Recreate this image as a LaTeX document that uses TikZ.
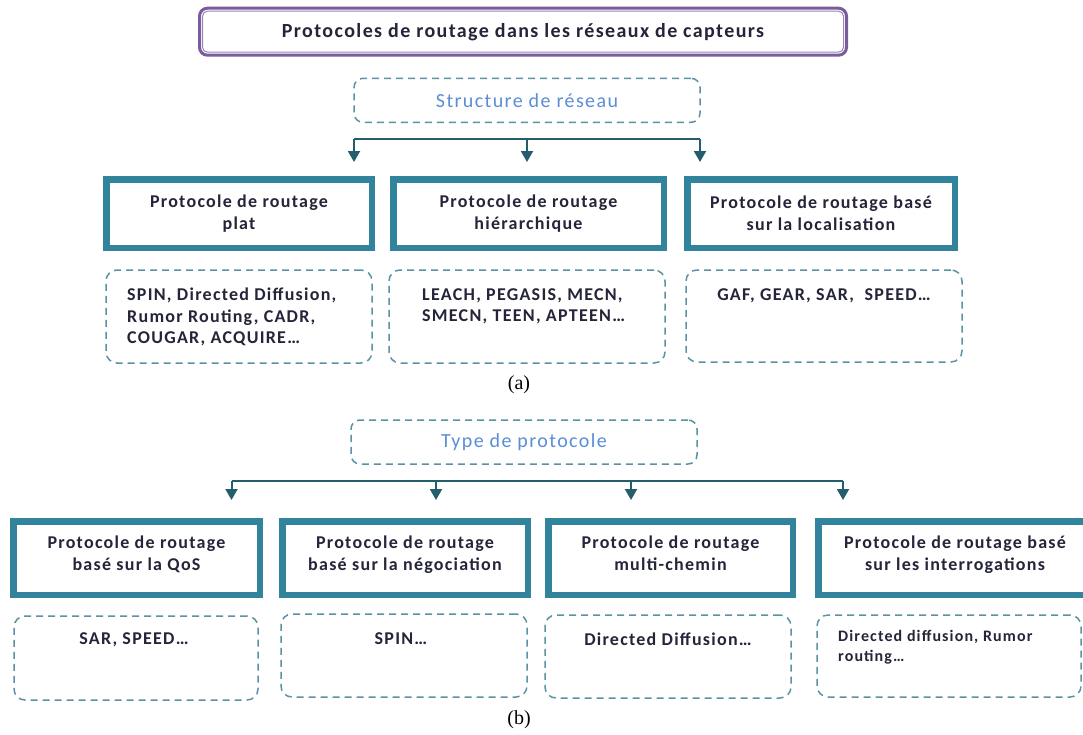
\documentclass[tikz,border=0pt]{standalone}
\usepackage{fontspec}
\setmainfont{Carlito}
\newfontfamily\widefont[LetterSpace=7]{Carlito}
\newfontfamily\capfont{Liberation Serif}
\usetikzlibrary{arrows.meta}

\definecolor{boxteal}{HTML}{31849B}
\definecolor{dashteal}{HTML}{5A93A5}
\definecolor{arrowteal}{HTML}{245E6C}
\definecolor{labelblue}{HTML}{5B8ED6}
\definecolor{titlepurple}{HTML}{7A5C9A}
\definecolor{titleinner}{HTML}{9A84B8}
\definecolor{inkdark}{HTML}{25253A}

% raise one line of a category label a little inside its frame, keeping its size
\newcommand{\liftline}[1]{\raisebox{3.5pt}[\height][\depth]{#1\vphantom{g}}}

\begin{document}
\begin{tikzpicture}[x=1pt,y=-1pt,
  titlebox/.style={draw=titlepurple, line width=3pt, rounded corners=8pt, fill=white,
    inner sep=0, font=\widefont\fontsize{20}{22}\selectfont\bfseries, text=inkdark},
  headbox/.style={draw=dashteal, line width=1.5pt, dash pattern=on 7pt off 5pt,
    rounded corners=9pt, inner sep=0, font=\widefont\fontsize{20}{22}\selectfont, text=labelblue},
  catbox/.style={draw=boxteal, line width=6.5pt, fill=white, inner sep=0,
    font=\widefont\fontsize{18}{22}\selectfont\bfseries, text=inkdark, align=center},
  listbox/.style={draw=dashteal, line width=1.5pt, dash pattern=on 7pt off 5pt,
    rounded corners=11pt, inner sep=0},
  listtext/.style={inner sep=0, font=\widefont\fontsize{18}{21.5}\selectfont\bfseries, text=inkdark},
  smalllist/.style={inner sep=0, font=\widefont\fontsize{16}{20}\selectfont\bfseries, text=inkdark, align=left},
  captext/.style={inner sep=0, font=\capfont\fontsize{20}{22}\selectfont, text=black},
  barline/.style={draw=arrowteal, line width=2pt},
  arrowline/.style={draw=arrowteal, line width=2pt, -{Triangle[width=12pt,length=11pt]}}
]
\useasboundingbox[fill=white] (0,0) rectangle (1083,734);

% ---------- title ----------
\node[titlebox, minimum width=647pt, minimum height=47pt] (title) at (523,31.7)
  {Protocoles de routage dans les réseaux de capteurs};
\draw[titleinner, line width=1pt, rounded corners=5pt]
  ([shift={(4.5pt,-4.5pt)}]title.north west) rectangle ([shift={(-4.5pt,4.5pt)}]title.south east);

% ---------- (a) network structure ----------
\node[headbox, minimum width=346pt, minimum height=44pt] (hA) at (527,100.3) {Structure de réseau};

\coordinate (ja1) at (354,139);
\coordinate (ja2) at (527,139);
\coordinate (ja3) at (700,139);
\draw[barline] (ja1) -- (ja3);

\node[catbox, minimum width=265.5pt, minimum height=68.5pt] (pa1) at (239,213.5)
  {Protocole de routage\\plat};
\node[catbox, minimum width=270.5pt, minimum height=68.5pt] (pa2) at (528.5,213.5)
  {Protocole de routage\\hiérarchique};
\node[catbox, minimum width=267.5pt, minimum height=68.5pt] (pa3) at (821,213.5)
  {Protocole de routage basé\\sur la localisation};

\draw[arrowline, shorten >=14pt] (ja1) -- (ja1 |- pa1.north);
\draw[arrowline, shorten >=14pt] (ja2) -- (ja2 |- pa2.north);
\draw[arrowline, shorten >=14pt] (ja3) -- (ja3 |- pa3.north);

\node[listbox, minimum width=266pt, minimum height=93pt] (la1) at (239,316.5) {};
\node[listbox, minimum width=276pt, minimum height=93pt] (la2) at (527,316.5) {};
\node[listbox, minimum width=276pt, minimum height=92pt] (la3) at (824,316) {};

\node[listtext, align=left, anchor=north west] (ta1) at (127,288)
  {SPIN, Directed Diffusion,\\Rumor Routing, CADR,\\COUGAR, ACQUIRE…};
\node[listtext, align=left, anchor=north west] (ta2) at (422,288)
  {LEACH, PEGASIS, MECN,\\SMECN, TEEN, APTEEN…};
\node[listtext, anchor=north] (ta3) at (824,288) {GAF, GEAR, SAR, \ SPEED…};

\node[captext] (capa) at (519,385) {(a)};

% ---------- (b) protocol type ----------
\node[headbox, minimum width=346pt, minimum height=44pt] (hB) at (524,442) {Type de protocole};

\coordinate (jb1) at (231.5,481);
\coordinate (jb2) at (436,481);
\coordinate (jb3) at (631,481);
\coordinate (jb4) at (843,481);
\draw[barline] (jb1) -- (jb4);

\node[catbox, minimum width=246.5pt, minimum height=73.5pt] (pb1) at (136.5,558)
  {\liftline{Protocole de routage}\\\liftline{basé sur la QoS}};
\node[catbox, minimum width=245.5pt, minimum height=73.5pt] (pb2) at (405,558)
  {\liftline{Protocole de routage}\\\liftline{basé sur la négociation}};
\node[catbox, minimum width=244.5pt, minimum height=73.5pt] (pb3) at (670.5,558)
  {\liftline{Protocole de routage}\\\liftline{multi-chemin}};
\node[catbox, minimum width=273.5pt, minimum height=73.5pt] (pb4) at (955,558)
  {\liftline{Protocole de routage basé}\\\liftline{sur les interrogations}};

\draw[arrowline, shorten >=18pt] (jb1) -- (jb1 |- pb1.north);
\draw[arrowline, shorten >=18pt] (jb2) -- (jb2 |- pb2.north);
\draw[arrowline, shorten >=18pt] (jb3) -- (jb3 |- pb3.north);
\draw[arrowline, shorten >=18pt] (jb4) -- (jb4 |- pb4.north);

\node[listbox, minimum width=244pt, minimum height=84pt] (lb1) at (136,658) {};
\node[listbox, minimum width=246pt, minimum height=83pt] (lb2) at (404,655.5) {};
\node[listbox, minimum width=246pt, minimum height=83pt] (lb3) at (668,656.5) {};
\node[listbox, minimum width=264pt, minimum height=82pt] (lb4) at (949,656) {};

\node[listtext, anchor=north] (tb1) at (134,632.5) {SAR, SPEED…};
\node[listtext, anchor=north] (tb2) at (401,632) {SPIN…};
\node[listtext, anchor=north] (tb3) at (668,632.5) {Directed Diffusion…};
\node[smalllist, anchor=north west] (tb4) at (838,630.5) {Directed diffusion, Rumor\\routing…};

\node[captext] (capb) at (519,720) {(b)};
\end{tikzpicture}
\end{document}
